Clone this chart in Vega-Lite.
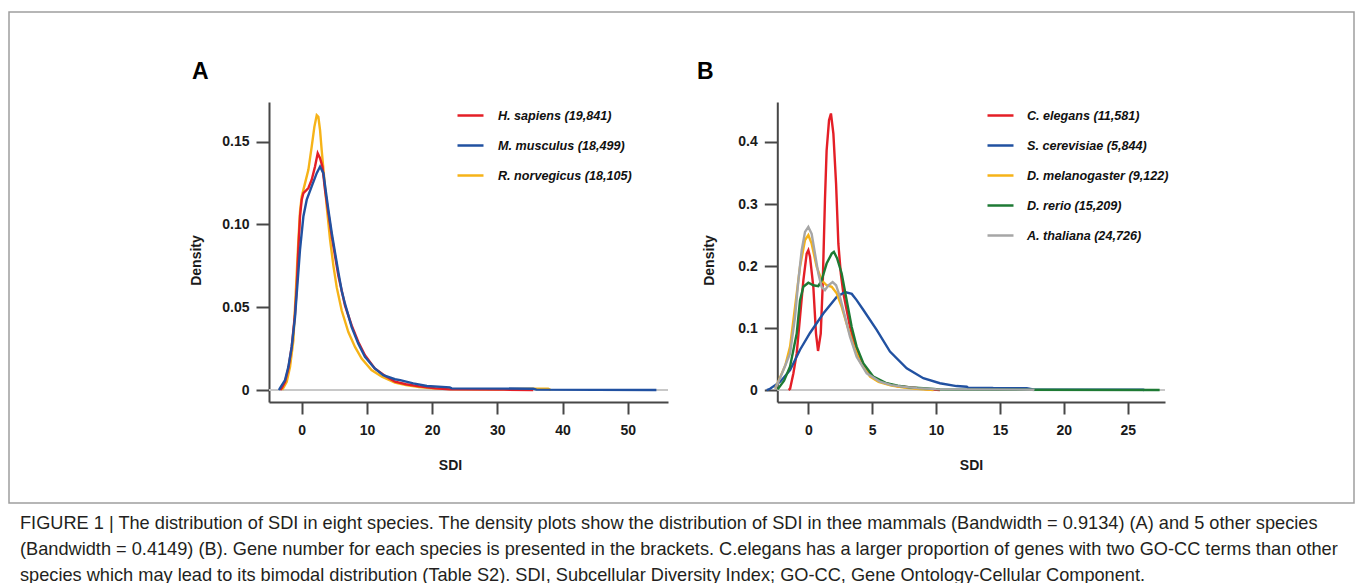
{
  "$schema": "https://vega.github.io/schema/vega-lite/v6.json",
  "width": 1345,
  "height": 491,
  "padding": {"left": 9, "top": 12, "right": 1, "bottom": 0},
  "background": "white",
  "config": {
    "font": "Liberation Sans",
    "view": {"stroke": "#9e9e9e", "strokeWidth": 1.5},
    "axis": {"grid": false}
  },
  "title": {
    "text": [
      "FIGURE 1 | The distribution of SDI in eight species. The density plots show the distribution of SDI in thee mammals (Bandwidth = 0.9134) (A) and 5 other species",
      "(Bandwidth = 0.4149) (B). Gene number for each species is presented in the brackets. C.elegans has a larger proportion of genes with two GO-CC terms than other",
      "species which may lead to its bimodal distribution (Table S2). SDI, Subcellular Diversity Index; GO-CC, Gene Ontology-Cellular Component."
    ],
    "orient": "bottom",
    "anchor": "start",
    "frame": "group",
    "offset": 26,
    "dx": 11,
    "baseline": "alphabetic",
    "font": "Liberation Sans",
    "fontSize": 18.2,
    "fontWeight": "normal",
    "color": "#231f20",
    "lineHeight": 26
  },
  "datasets": {
    "panelA": [
      {"s": "R. norvegicus (18,105)", "x": -3.0, "y": 0.0},
      {"s": "R. norvegicus (18,105)", "x": -2.82, "y": 0.0012},
      {"s": "R. norvegicus (18,105)", "x": -2.3, "y": 0.005},
      {"s": "R. norvegicus (18,105)", "x": -1.79, "y": 0.014},
      {"s": "R. norvegicus (18,105)", "x": -1.28, "y": 0.030},
      {"s": "R. norvegicus (18,105)", "x": -1.03, "y": 0.050},
      {"s": "R. norvegicus (18,105)", "x": -0.77, "y": 0.070},
      {"s": "R. norvegicus (18,105)", "x": -0.52, "y": 0.090},
      {"s": "R. norvegicus (18,105)", "x": -0.26, "y": 0.108},
      {"s": "R. norvegicus (18,105)", "x": 0.0, "y": 0.117},
      {"s": "R. norvegicus (18,105)", "x": 0.51, "y": 0.125},
      {"s": "R. norvegicus (18,105)", "x": 1.02, "y": 0.133},
      {"s": "R. norvegicus (18,105)", "x": 1.53, "y": 0.147},
      {"s": "R. norvegicus (18,105)", "x": 1.94, "y": 0.159},
      {"s": "R. norvegicus (18,105)", "x": 2.30, "y": 0.166},
      {"s": "R. norvegicus (18,105)", "x": 2.55, "y": 0.165},
      {"s": "R. norvegicus (18,105)", "x": 2.81, "y": 0.157},
      {"s": "R. norvegicus (18,105)", "x": 3.06, "y": 0.145},
      {"s": "R. norvegicus (18,105)", "x": 3.47, "y": 0.127},
      {"s": "R. norvegicus (18,105)", "x": 3.83, "y": 0.111},
      {"s": "R. norvegicus (18,105)", "x": 4.34, "y": 0.091},
      {"s": "R. norvegicus (18,105)", "x": 4.86, "y": 0.075},
      {"s": "R. norvegicus (18,105)", "x": 5.37, "y": 0.062},
      {"s": "R. norvegicus (18,105)", "x": 6.13, "y": 0.048},
      {"s": "R. norvegicus (18,105)", "x": 7.15, "y": 0.035},
      {"s": "R. norvegicus (18,105)", "x": 8.17, "y": 0.026},
      {"s": "R. norvegicus (18,105)", "x": 9.19, "y": 0.019},
      {"s": "R. norvegicus (18,105)", "x": 10.7, "y": 0.012},
      {"s": "R. norvegicus (18,105)", "x": 12.3, "y": 0.008},
      {"s": "R. norvegicus (18,105)", "x": 14.3, "y": 0.0045},
      {"s": "R. norvegicus (18,105)", "x": 16.0, "y": 0.003},
      {"s": "R. norvegicus (18,105)", "x": 18.0, "y": 0.0018},
      {"s": "R. norvegicus (18,105)", "x": 20.0, "y": 0.001},
      {"s": "R. norvegicus (18,105)", "x": 23.0, "y": 0.0006},
      {"s": "R. norvegicus (18,105)", "x": 30.0, "y": 0.0004},
      {"s": "R. norvegicus (18,105)", "x": 35.5, "y": 0.0008},
      {"s": "R. norvegicus (18,105)", "x": 37.8, "y": 0.0008},
      {"s": "R. norvegicus (18,105)", "x": 38.2, "y": 0.0},
      {"s": "H. sapiens (19,841)", "x": -3.3, "y": 0.0},
      {"s": "H. sapiens (19,841)", "x": -3.07, "y": 0.0012},
      {"s": "H. sapiens (19,841)", "x": -2.56, "y": 0.005},
      {"s": "H. sapiens (19,841)", "x": -2.05, "y": 0.013},
      {"s": "H. sapiens (19,841)", "x": -1.54, "y": 0.026},
      {"s": "H. sapiens (19,841)", "x": -1.03, "y": 0.046},
      {"s": "H. sapiens (19,841)", "x": -0.77, "y": 0.062},
      {"s": "H. sapiens (19,841)", "x": -0.52, "y": 0.085},
      {"s": "H. sapiens (19,841)", "x": -0.26, "y": 0.105},
      {"s": "H. sapiens (19,841)", "x": 0.0, "y": 0.115},
      {"s": "H. sapiens (19,841)", "x": 0.26, "y": 0.119},
      {"s": "H. sapiens (19,841)", "x": 1.02, "y": 0.122},
      {"s": "H. sapiens (19,841)", "x": 1.53, "y": 0.127},
      {"s": "H. sapiens (19,841)", "x": 2.04, "y": 0.135},
      {"s": "H. sapiens (19,841)", "x": 2.45, "y": 0.143},
      {"s": "H. sapiens (19,841)", "x": 2.81, "y": 0.140},
      {"s": "H. sapiens (19,841)", "x": 3.17, "y": 0.135},
      {"s": "H. sapiens (19,841)", "x": 3.57, "y": 0.121},
      {"s": "H. sapiens (19,841)", "x": 4.08, "y": 0.107},
      {"s": "H. sapiens (19,841)", "x": 4.6, "y": 0.093},
      {"s": "H. sapiens (19,841)", "x": 5.11, "y": 0.081},
      {"s": "H. sapiens (19,841)", "x": 5.62, "y": 0.069},
      {"s": "H. sapiens (19,841)", "x": 6.64, "y": 0.051},
      {"s": "H. sapiens (19,841)", "x": 7.66, "y": 0.039},
      {"s": "H. sapiens (19,841)", "x": 8.68, "y": 0.029},
      {"s": "H. sapiens (19,841)", "x": 9.7, "y": 0.021},
      {"s": "H. sapiens (19,841)", "x": 11.2, "y": 0.013},
      {"s": "H. sapiens (19,841)", "x": 12.8, "y": 0.0085},
      {"s": "H. sapiens (19,841)", "x": 14.3, "y": 0.005},
      {"s": "H. sapiens (19,841)", "x": 16.0, "y": 0.0035},
      {"s": "H. sapiens (19,841)", "x": 18.0, "y": 0.0022},
      {"s": "H. sapiens (19,841)", "x": 20.5, "y": 0.001},
      {"s": "H. sapiens (19,841)", "x": 22.7, "y": 0.0004},
      {"s": "H. sapiens (19,841)", "x": 31.0, "y": 0.0002},
      {"s": "H. sapiens (19,841)", "x": 35.5, "y": 0.0},
      {"s": "M. musculus (18,499)", "x": -3.5, "y": 0.0},
      {"s": "M. musculus (18,499)", "x": -3.33, "y": 0.0012},
      {"s": "M. musculus (18,499)", "x": -2.56, "y": 0.006},
      {"s": "M. musculus (18,499)", "x": -2.05, "y": 0.014},
      {"s": "M. musculus (18,499)", "x": -1.54, "y": 0.026},
      {"s": "M. musculus (18,499)", "x": -1.03, "y": 0.044},
      {"s": "M. musculus (18,499)", "x": -0.77, "y": 0.058},
      {"s": "M. musculus (18,499)", "x": -0.26, "y": 0.085},
      {"s": "M. musculus (18,499)", "x": 0.26, "y": 0.105},
      {"s": "M. musculus (18,499)", "x": 0.77, "y": 0.115},
      {"s": "M. musculus (18,499)", "x": 1.53, "y": 0.123},
      {"s": "M. musculus (18,499)", "x": 2.30, "y": 0.131},
      {"s": "M. musculus (18,499)", "x": 2.81, "y": 0.135},
      {"s": "M. musculus (18,499)", "x": 3.32, "y": 0.131},
      {"s": "M. musculus (18,499)", "x": 3.73, "y": 0.119},
      {"s": "M. musculus (18,499)", "x": 4.08, "y": 0.109},
      {"s": "M. musculus (18,499)", "x": 4.6, "y": 0.095},
      {"s": "M. musculus (18,499)", "x": 5.11, "y": 0.083},
      {"s": "M. musculus (18,499)", "x": 5.62, "y": 0.071},
      {"s": "M. musculus (18,499)", "x": 6.13, "y": 0.060},
      {"s": "M. musculus (18,499)", "x": 6.64, "y": 0.052},
      {"s": "M. musculus (18,499)", "x": 7.66, "y": 0.038},
      {"s": "M. musculus (18,499)", "x": 8.68, "y": 0.028},
      {"s": "M. musculus (18,499)", "x": 9.7, "y": 0.020},
      {"s": "M. musculus (18,499)", "x": 11.2, "y": 0.013},
      {"s": "M. musculus (18,499)", "x": 12.5, "y": 0.009},
      {"s": "M. musculus (18,499)", "x": 14.3, "y": 0.0065},
      {"s": "M. musculus (18,499)", "x": 15.1, "y": 0.006},
      {"s": "M. musculus (18,499)", "x": 17.1, "y": 0.004},
      {"s": "M. musculus (18,499)", "x": 19.2, "y": 0.0024},
      {"s": "M. musculus (18,499)", "x": 22.7, "y": 0.0016},
      {"s": "M. musculus (18,499)", "x": 23.0, "y": 0.001},
      {"s": "M. musculus (18,499)", "x": 35.5, "y": 0.0008},
      {"s": "M. musculus (18,499)", "x": 36.0, "y": 0.0002},
      {"s": "M. musculus (18,499)", "x": 54.4, "y": 0.0}
    ],
    "panelB": [
      {"s": "C. elegans (11,581)", "x": -1.55, "y": 0.0},
      {"s": "C. elegans (11,581)", "x": -1.43, "y": 0.002},
      {"s": "C. elegans (11,581)", "x": -1.17, "y": 0.027},
      {"s": "C. elegans (11,581)", "x": -0.91, "y": 0.059},
      {"s": "C. elegans (11,581)", "x": -0.65, "y": 0.118},
      {"s": "C. elegans (11,581)", "x": -0.39, "y": 0.177},
      {"s": "C. elegans (11,581)", "x": -0.13, "y": 0.220},
      {"s": "C. elegans (11,581)", "x": 0.0, "y": 0.2255},
      {"s": "C. elegans (11,581)", "x": 0.13, "y": 0.215},
      {"s": "C. elegans (11,581)", "x": 0.39, "y": 0.1665},
      {"s": "C. elegans (11,581)", "x": 0.6, "y": 0.091},
      {"s": "C. elegans (11,581)", "x": 0.76, "y": 0.063},
      {"s": "C. elegans (11,581)", "x": 0.97, "y": 0.091},
      {"s": "C. elegans (11,581)", "x": 1.12, "y": 0.1665},
      {"s": "C. elegans (11,581)", "x": 1.3, "y": 0.306},
      {"s": "C. elegans (11,581)", "x": 1.43, "y": 0.386},
      {"s": "C. elegans (11,581)", "x": 1.62, "y": 0.435},
      {"s": "C. elegans (11,581)", "x": 1.77, "y": 0.446},
      {"s": "C. elegans (11,581)", "x": 1.96, "y": 0.4135},
      {"s": "C. elegans (11,581)", "x": 2.17, "y": 0.333},
      {"s": "C. elegans (11,581)", "x": 2.35, "y": 0.236},
      {"s": "C. elegans (11,581)", "x": 2.54, "y": 0.188},
      {"s": "C. elegans (11,581)", "x": 2.74, "y": 0.156},
      {"s": "C. elegans (11,581)", "x": 3.0, "y": 0.129},
      {"s": "C. elegans (11,581)", "x": 3.26, "y": 0.102},
      {"s": "C. elegans (11,581)", "x": 3.52, "y": 0.081},
      {"s": "C. elegans (11,581)", "x": 4.05, "y": 0.048},
      {"s": "C. elegans (11,581)", "x": 4.57, "y": 0.030},
      {"s": "C. elegans (11,581)", "x": 5.35, "y": 0.016},
      {"s": "C. elegans (11,581)", "x": 6.0, "y": 0.011},
      {"s": "C. elegans (11,581)", "x": 7.0, "y": 0.006},
      {"s": "C. elegans (11,581)", "x": 8.0, "y": 0.004},
      {"s": "C. elegans (11,581)", "x": 9.0, "y": 0.002},
      {"s": "C. elegans (11,581)", "x": 10.3, "y": 0.0},
      {"s": "S. cerevisiae (5,844)", "x": -3.26, "y": 0.0},
      {"s": "S. cerevisiae (5,844)", "x": -3.0, "y": 0.002},
      {"s": "S. cerevisiae (5,844)", "x": -2.22, "y": 0.013},
      {"s": "S. cerevisiae (5,844)", "x": -1.43, "y": 0.032},
      {"s": "S. cerevisiae (5,844)", "x": -0.65, "y": 0.065},
      {"s": "S. cerevisiae (5,844)", "x": 0.13, "y": 0.092},
      {"s": "S. cerevisiae (5,844)", "x": 1.17, "y": 0.1235},
      {"s": "S. cerevisiae (5,844)", "x": 2.22, "y": 0.150},
      {"s": "S. cerevisiae (5,844)", "x": 2.87, "y": 0.158},
      {"s": "S. cerevisiae (5,844)", "x": 3.4, "y": 0.155},
      {"s": "S. cerevisiae (5,844)", "x": 3.78, "y": 0.145},
      {"s": "S. cerevisiae (5,844)", "x": 4.31, "y": 0.129},
      {"s": "S. cerevisiae (5,844)", "x": 5.35, "y": 0.097},
      {"s": "S. cerevisiae (5,844)", "x": 6.39, "y": 0.062},
      {"s": "S. cerevisiae (5,844)", "x": 7.7, "y": 0.035},
      {"s": "S. cerevisiae (5,844)", "x": 9.0, "y": 0.019},
      {"s": "S. cerevisiae (5,844)", "x": 10.3, "y": 0.011},
      {"s": "S. cerevisiae (5,844)", "x": 11.6, "y": 0.0064},
      {"s": "S. cerevisiae (5,844)", "x": 12.4, "y": 0.0054},
      {"s": "S. cerevisiae (5,844)", "x": 12.5, "y": 0.0037},
      {"s": "S. cerevisiae (5,844)", "x": 14.4, "y": 0.0035},
      {"s": "S. cerevisiae (5,844)", "x": 14.5, "y": 0.003},
      {"s": "S. cerevisiae (5,844)", "x": 17.1, "y": 0.003},
      {"s": "S. cerevisiae (5,844)", "x": 17.7, "y": 0.0006},
      {"s": "S. cerevisiae (5,844)", "x": 26.2, "y": 0.0005},
      {"s": "S. cerevisiae (5,844)", "x": 26.3, "y": 0.0},
      {"s": "D. melanogaster (9,122)", "x": -2.6, "y": 0.002},
      {"s": "D. melanogaster (9,122)", "x": -2.22, "y": 0.02},
      {"s": "D. melanogaster (9,122)", "x": -1.8, "y": 0.04},
      {"s": "D. melanogaster (9,122)", "x": -1.43, "y": 0.070},
      {"s": "D. melanogaster (9,122)", "x": -1.04, "y": 0.134},
      {"s": "D. melanogaster (9,122)", "x": -0.65, "y": 0.199},
      {"s": "D. melanogaster (9,122)", "x": -0.26, "y": 0.242},
      {"s": "D. melanogaster (9,122)", "x": 0.0, "y": 0.250},
      {"s": "D. melanogaster (9,122)", "x": 0.26, "y": 0.236},
      {"s": "D. melanogaster (9,122)", "x": 0.65, "y": 0.199},
      {"s": "D. melanogaster (9,122)", "x": 1.04, "y": 0.177},
      {"s": "D. melanogaster (9,122)", "x": 1.43, "y": 0.169},
      {"s": "D. melanogaster (9,122)", "x": 1.83, "y": 0.1665},
      {"s": "D. melanogaster (9,122)", "x": 2.22, "y": 0.156},
      {"s": "D. melanogaster (9,122)", "x": 2.61, "y": 0.134},
      {"s": "D. melanogaster (9,122)", "x": 3.0, "y": 0.107},
      {"s": "D. melanogaster (9,122)", "x": 3.52, "y": 0.0725},
      {"s": "D. melanogaster (9,122)", "x": 4.05, "y": 0.0456},
      {"s": "D. melanogaster (9,122)", "x": 4.83, "y": 0.0215},
      {"s": "D. melanogaster (9,122)", "x": 5.5, "y": 0.013},
      {"s": "D. melanogaster (9,122)", "x": 6.5, "y": 0.007},
      {"s": "D. melanogaster (9,122)", "x": 7.5, "y": 0.004},
      {"s": "D. melanogaster (9,122)", "x": 8.5, "y": 0.002},
      {"s": "D. melanogaster (9,122)", "x": 9.8, "y": 0.0},
      {"s": "D. rerio (15,209)", "x": -2.4, "y": 0.001},
      {"s": "D. rerio (15,209)", "x": -1.9, "y": 0.015},
      {"s": "D. rerio (15,209)", "x": -1.43, "y": 0.038},
      {"s": "D. rerio (15,209)", "x": -0.91, "y": 0.091},
      {"s": "D. rerio (15,209)", "x": -0.65, "y": 0.145},
      {"s": "D. rerio (15,209)", "x": -0.39, "y": 0.1665},
      {"s": "D. rerio (15,209)", "x": 0.0, "y": 0.173},
      {"s": "D. rerio (15,209)", "x": 0.39, "y": 0.169},
      {"s": "D. rerio (15,209)", "x": 0.78, "y": 0.1675},
      {"s": "D. rerio (15,209)", "x": 1.04, "y": 0.177},
      {"s": "D. rerio (15,209)", "x": 1.43, "y": 0.204},
      {"s": "D. rerio (15,209)", "x": 1.83, "y": 0.220},
      {"s": "D. rerio (15,209)", "x": 2.0, "y": 0.2228},
      {"s": "D. rerio (15,209)", "x": 2.26, "y": 0.212},
      {"s": "D. rerio (15,209)", "x": 2.61, "y": 0.188},
      {"s": "D. rerio (15,209)", "x": 3.0, "y": 0.145},
      {"s": "D. rerio (15,209)", "x": 3.39, "y": 0.102},
      {"s": "D. rerio (15,209)", "x": 3.78, "y": 0.070},
      {"s": "D. rerio (15,209)", "x": 4.31, "y": 0.043},
      {"s": "D. rerio (15,209)", "x": 5.09, "y": 0.0215},
      {"s": "D. rerio (15,209)", "x": 6.13, "y": 0.011},
      {"s": "D. rerio (15,209)", "x": 7.0, "y": 0.007},
      {"s": "D. rerio (15,209)", "x": 8.0, "y": 0.004},
      {"s": "D. rerio (15,209)", "x": 9.0, "y": 0.003},
      {"s": "D. rerio (15,209)", "x": 10.3, "y": 0.001},
      {"s": "D. rerio (15,209)", "x": 15.0, "y": 0.0004},
      {"s": "D. rerio (15,209)", "x": 27.5, "y": 0.0},
      {"s": "A. thaliana (24,726)", "x": -2.6, "y": 0.002},
      {"s": "A. thaliana (24,726)", "x": -2.2, "y": 0.02},
      {"s": "A. thaliana (24,726)", "x": -1.8, "y": 0.04},
      {"s": "A. thaliana (24,726)", "x": -1.43, "y": 0.059},
      {"s": "A. thaliana (24,726)", "x": -1.04, "y": 0.118},
      {"s": "A. thaliana (24,726)", "x": -0.78, "y": 0.177},
      {"s": "A. thaliana (24,726)", "x": -0.52, "y": 0.2255},
      {"s": "A. thaliana (24,726)", "x": -0.26, "y": 0.255},
      {"s": "A. thaliana (24,726)", "x": 0.0, "y": 0.263},
      {"s": "A. thaliana (24,726)", "x": 0.26, "y": 0.252},
      {"s": "A. thaliana (24,726)", "x": 0.52, "y": 0.22},
      {"s": "A. thaliana (24,726)", "x": 0.78, "y": 0.188},
      {"s": "A. thaliana (24,726)", "x": 1.04, "y": 0.1665},
      {"s": "A. thaliana (24,726)", "x": 1.3, "y": 0.161},
      {"s": "A. thaliana (24,726)", "x": 1.57, "y": 0.169},
      {"s": "A. thaliana (24,726)", "x": 1.9, "y": 0.174},
      {"s": "A. thaliana (24,726)", "x": 2.17, "y": 0.169},
      {"s": "A. thaliana (24,726)", "x": 2.48, "y": 0.150},
      {"s": "A. thaliana (24,726)", "x": 2.87, "y": 0.118},
      {"s": "A. thaliana (24,726)", "x": 3.26, "y": 0.086},
      {"s": "A. thaliana (24,726)", "x": 3.78, "y": 0.0537},
      {"s": "A. thaliana (24,726)", "x": 4.57, "y": 0.027},
      {"s": "A. thaliana (24,726)", "x": 5.61, "y": 0.0134},
      {"s": "A. thaliana (24,726)", "x": 6.5, "y": 0.008},
      {"s": "A. thaliana (24,726)", "x": 7.5, "y": 0.005},
      {"s": "A. thaliana (24,726)", "x": 8.5, "y": 0.003},
      {"s": "A. thaliana (24,726)", "x": 10.0, "y": 0.0015},
      {"s": "A. thaliana (24,726)", "x": 12.0, "y": 0.001},
      {"s": "A. thaliana (24,726)", "x": 17.6, "y": 0.0005},
      {"s": "A. thaliana (24,726)", "x": 17.7, "y": 0.0}
    ]
  },
  "resolve": {"scale": {"x": "independent", "y": "independent", "color": "independent"}},
  "layer": [
    {
      "layer": [
        {
          "data": {"values": [{}]},
          "mark": {"type": "rule", "color": "#c8c8c8", "strokeWidth": 2},
          "encoding": {
            "x": {"datum": -5.02, "type": "quantitative"},
            "x2": {"datum": 56.18},
            "y": {"datum": 0, "type": "quantitative"}
          }
        },
        {
          "data": {"name": "panelA"},
          "mark": {"type": "line", "strokeWidth": 2.4},
          "encoding": {
            "x": {
              "field": "x", "type": "quantitative",
              "scale": {"domain": [-5.02, 56.18], "range": [260, 659], "nice": false, "zero": false},
              "axis": {
                "orient": "bottom", "offset": -101, "values": [0, 10, 20, 30, 40, 50],
                "title": "SDI", "titleX": 441, "titleY": 63, "titleBaseline": "middle", "titleAlign": "center",
                "titleFont": "Liberation Sans", "titleFontSize": 14, "titleFontWeight": "bold", "titleColor": "#1a1a1a",
                "domainColor": "#474747", "domainWidth": 2, "tickColor": "#474747", "tickWidth": 2, "tickSize": 12,
                "labelFont": "Liberation Sans", "labelFontSize": 14, "labelFontWeight": "bold", "labelColor": "#1a1a1a",
                "labelPadding": 9, "labelFlush": false, "labelOverlap": false, "grid": false
              }
            },
            "y": {
              "field": "y", "type": "quantitative",
              "scale": {"domain": [-0.00725, 0.174], "range": [390, 90], "nice": false, "zero": false},
              "axis": {
                "orient": "left", "offset": -260, "values": [0, 0.05, 0.1, 0.15],
                "labelExpr": "datum.value == 0 ? '0' : format(datum.value, '.2f')",
                "title": "Density", "titleX": -73, "titleY": 248, "titleAngle": -90, "titleBaseline": "middle", "titleAlign": "center",
                "titleFont": "Liberation Sans", "titleFontSize": 14, "titleFontWeight": "bold", "titleColor": "#1a1a1a",
                "domainColor": "#474747", "domainWidth": 2, "tickColor": "#474747", "tickWidth": 2, "tickSize": 13,
                "labelFont": "Liberation Sans", "labelFontSize": 14, "labelFontWeight": "bold", "labelColor": "#1a1a1a",
                "labelPadding": 7, "labelFlush": false, "labelOverlap": false, "grid": false
              }
            },
            "color": {
              "field": "s", "type": "nominal",
              "scale": {
                "domain": ["H. sapiens (19,841)", "M. musculus (18,499)", "R. norvegicus (18,105)"],
                "range": ["#e41e26", "#2151a1", "#f6b318"]
              },
              "legend": {
                "orient": "none", "legendX": 447, "legendY": 89, "title": null,
                "symbolType": "stroke", "symbolSize": 676, "symbolStrokeWidth": 2.5,
                "labelFont": "Liberation Sans", "labelFontSize": 12.6, "labelFontWeight": "bold", "labelFontStyle": "italic",
                "labelColor": "#111111", "labelOffset": 13, "rowPadding": 8, "padding": 0, "labelLimit": 400
              }
            }
          }
        },
        {
          "data": {"values": [{"label": "A"}]},
          "mark": {"type": "text", "font": "Liberation Sans", "fontSize": 23, "fontWeight": "bold", "align": "left", "baseline": "alphabetic", "color": "#000000"},
          "encoding": {
            "x": {"datum": -16.83, "type": "quantitative"},
            "y": {"datum": 0.1879, "type": "quantitative"},
            "text": {"field": "label"}
          }
        }
      ]
    },
    {
      "layer": [
        {
          "data": {"values": [{}]},
          "mark": {"type": "rule", "color": "#c8c8c8", "strokeWidth": 2},
          "encoding": {
            "x": {"datum": -2.43, "type": "quantitative"},
            "x2": {"datum": 27.92},
            "y": {"datum": 0, "type": "quantitative"}
          }
        },
        {
          "data": {"name": "panelB"},
          "mark": {"type": "line", "strokeWidth": 2.4},
          "encoding": {
            "x": {
              "field": "x", "type": "quantitative",
              "scale": {"domain": [-2.43, 27.92], "range": [768.3, 1156], "nice": false, "zero": false},
              "axis": {
                "orient": "bottom", "offset": -101, "values": [0, 5, 10, 15, 20, 25],
                "title": "SDI", "titleX": 962, "titleY": 63, "titleBaseline": "middle", "titleAlign": "center",
                "titleFont": "Liberation Sans", "titleFontSize": 14, "titleFontWeight": "bold", "titleColor": "#1a1a1a",
                "domainColor": "#474747", "domainWidth": 2, "tickColor": "#474747", "tickWidth": 2, "tickSize": 12,
                "labelFont": "Liberation Sans", "labelFontSize": 14, "labelFontWeight": "bold", "labelColor": "#1a1a1a",
                "labelPadding": 9, "labelFlush": false, "labelOverlap": false, "grid": false
              }
            },
            "y": {
              "field": "y", "type": "quantitative",
              "scale": {"domain": [-0.0193, 0.4645], "range": [390, 90], "nice": false, "zero": false},
              "axis": {
                "orient": "left", "offset": -768.3, "values": [0, 0.1, 0.2, 0.3, 0.4],
                "labelExpr": "datum.value == 0 ? '0' : format(datum.value, '.1f')",
                "title": "Density", "titleX": -68, "titleY": 248, "titleAngle": -90, "titleBaseline": "middle", "titleAlign": "center",
                "titleFont": "Liberation Sans", "titleFontSize": 14, "titleFontWeight": "bold", "titleColor": "#1a1a1a",
                "domainColor": "#474747", "domainWidth": 2, "tickColor": "#474747", "tickWidth": 2, "tickSize": 13,
                "labelFont": "Liberation Sans", "labelFontSize": 14, "labelFontWeight": "bold", "labelColor": "#1a1a1a",
                "labelPadding": 7, "labelFlush": false, "labelOverlap": false, "grid": false
              }
            },
            "color": {
              "field": "s", "type": "nominal",
              "scale": {
                "domain": ["C. elegans (11,581)", "S. cerevisiae (5,844)", "D. melanogaster (9,122)", "D. rerio (15,209)", "A. thaliana (24,726)"],
                "range": ["#e41e26", "#2151a1", "#f6b318", "#1e7a34", "#a6a6a6"]
              },
              "legend": {
                "orient": "none", "legendX": 977, "legendY": 89, "title": null,
                "symbolType": "stroke", "symbolSize": 676, "symbolStrokeWidth": 2.5,
                "labelFont": "Liberation Sans", "labelFontSize": 12.6, "labelFontWeight": "bold", "labelFontStyle": "italic",
                "labelColor": "#111111", "labelOffset": 12, "rowPadding": 8, "padding": 0, "labelLimit": 400
              }
            }
          }
        },
        {
          "data": {"values": [{"label": "B"}]},
          "mark": {"type": "text", "font": "Liberation Sans", "fontSize": 23, "fontWeight": "bold", "align": "left", "baseline": "alphabetic", "color": "#000000"},
          "encoding": {
            "x": {"datum": -8.71, "type": "quantitative"},
            "y": {"datum": 0.501, "type": "quantitative"},
            "text": {"field": "label"}
          }
        }
      ]
    }
  ]
}
